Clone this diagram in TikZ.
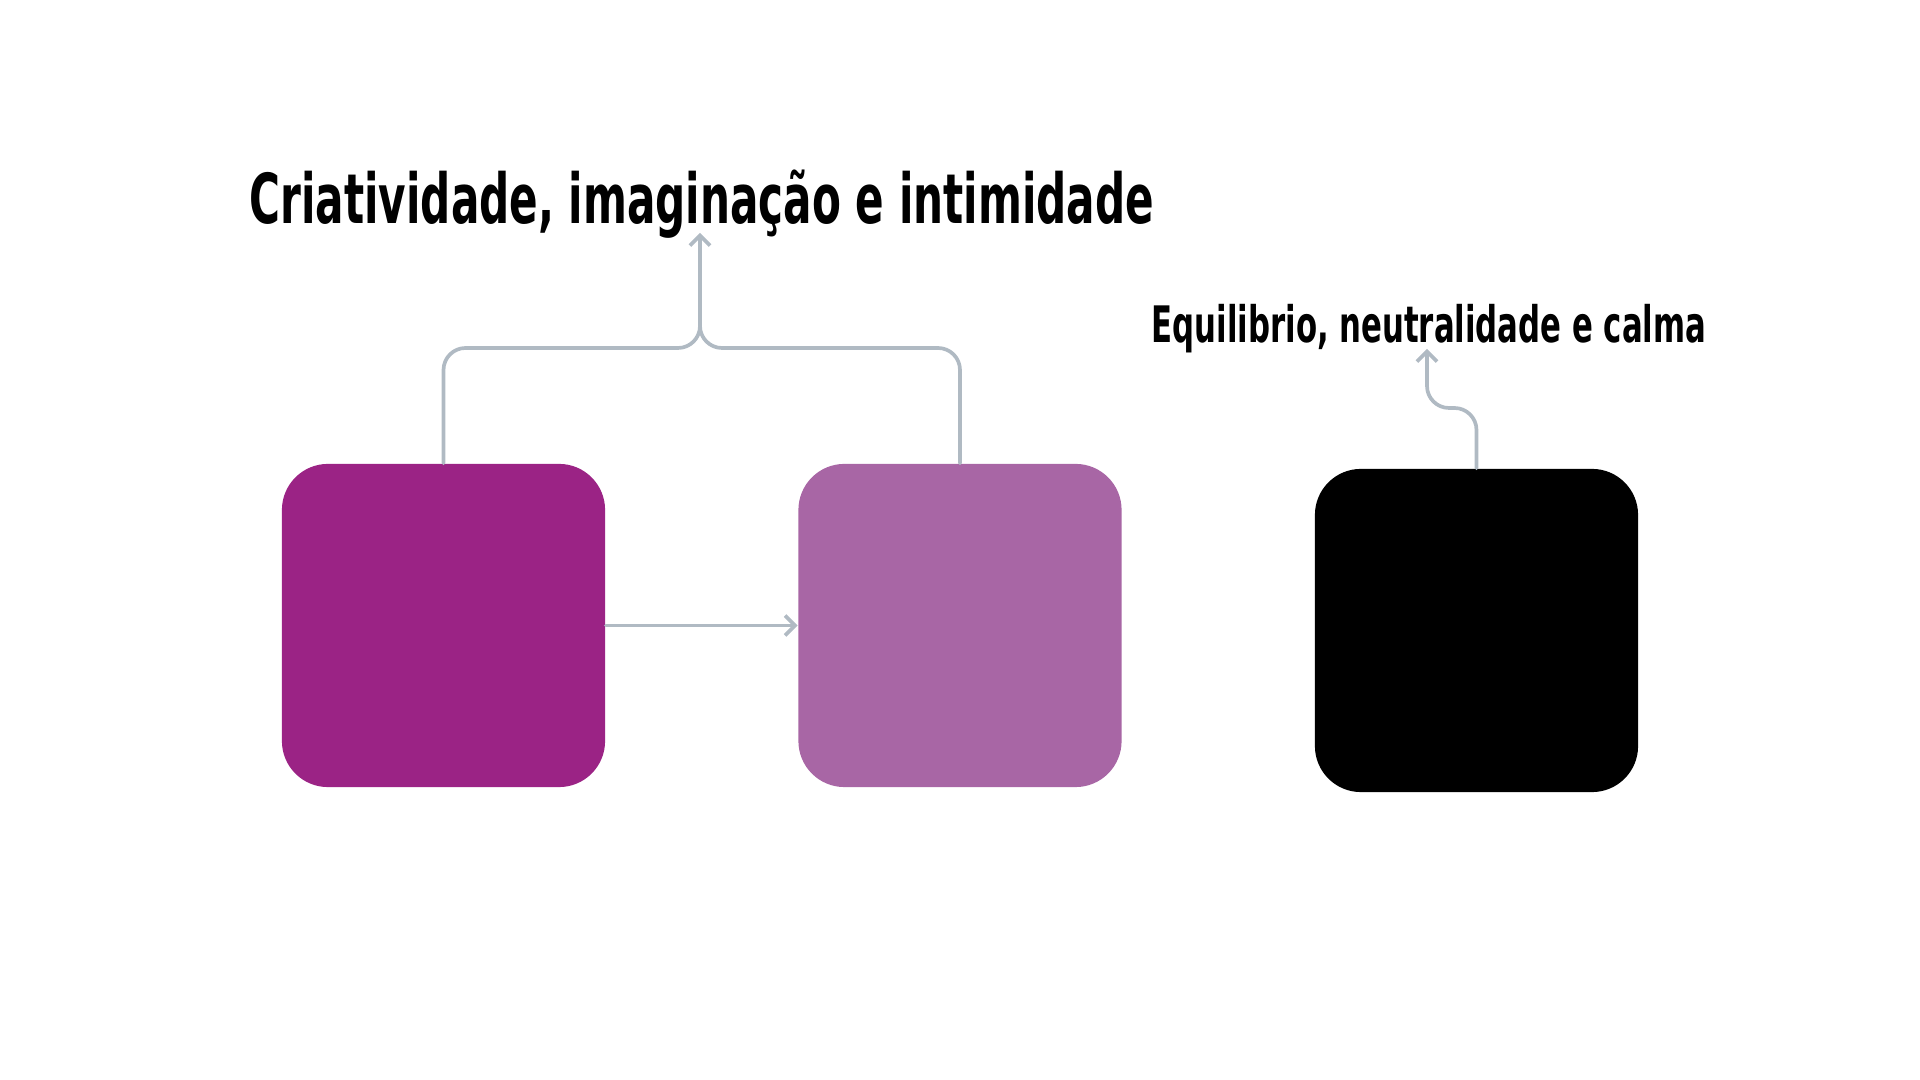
\documentclass[tikz,border=0pt]{standalone}
\usepackage{fontspec}
\setmainfont{DejaVu Sans Condensed}[FakeStretch=0.68]
\usepackage{xcolor}
\usepackage{tikz}
\usetikzlibrary{arrows.meta}

\definecolor{plum}{HTML}{9B2385}
\definecolor{lilac}{HTML}{A866A5}
\definecolor{wire}{HTML}{B0BAC3}

\begin{document}
\begin{tikzpicture}[x=0.01cm, y=-0.01cm,
    swatch/.style={minimum size=3.23cm, inner sep=0pt, rounded corners=0.46cm},
    link/.style={wire, line width=1.05pt, line cap=round, rounded corners=0.22cm},
    tip/.style={-{Straight Barb[length=1mm, width=2mm, line width=1.05pt]}},
    head/.style={anchor=base west, inner sep=0pt, font=\bfseries\fontsize{19.6}{22}\selectfont},
    subhead/.style={anchor=base west, inner sep=0pt, font=\bfseries\fontsize{14.3}{17}\selectfont}]
                \useasboundingbox (0,0) rectangle (1920,1080);

                % Colour swatches
                \node[swatch, fill=plum] (b1) at (443.5,625.5) {};
                \node[swatch, fill=lilac] (b2) at (960,625.5) {};
                \node[swatch, fill=black] (b3) at (1476.5,630.5) {};

                % Captions
                \node[head] (cap1) at (249,224) {Criatividade, imaginação e intimidade};
                \node[subhead] (cap2) at (1151,343) {Equilibrio, neutralidade e calma};
                \coordinate (tip1) at (700,233);
                \coordinate (tip2) at (1427,349);

                % Connectors
                \draw[link, tip] (b1) -- (b2);
                \draw[link, tip] (b1.north) |- (700,348) -- (tip1);
                \draw[link] (b2.north) |- (700,348) -- (700,320);
                \draw[link, tip] (b3.north) -- (1476.5,408) -- (1427,408) -- (tip2);
            \end{tikzpicture}
\end{document}
